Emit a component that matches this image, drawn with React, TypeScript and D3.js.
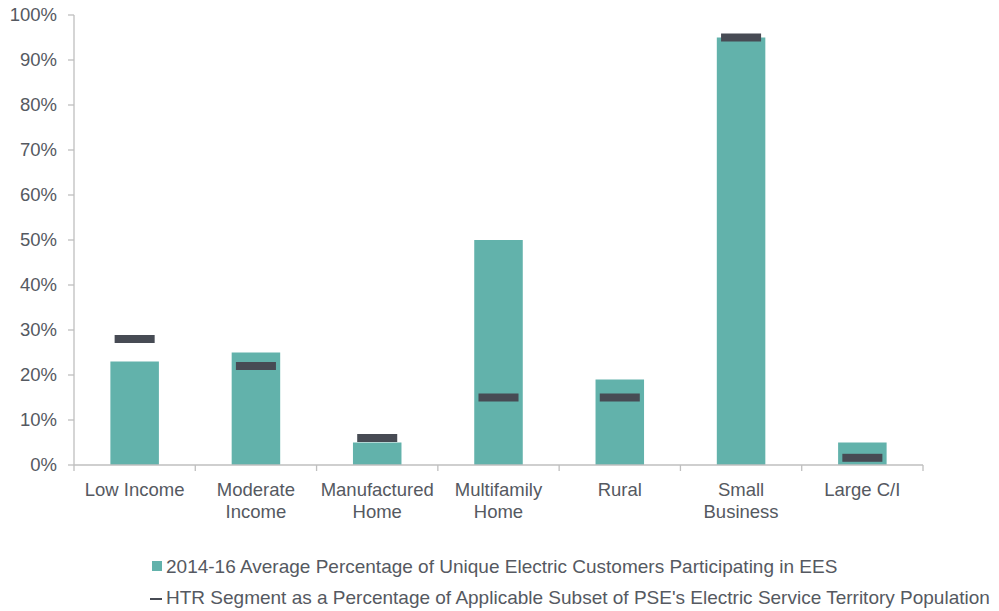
import React, { useEffect, useRef } from 'react';
import * as d3 from 'd3';

const categories = [
  ['Low Income'],
  ['Moderate', 'Income'],
  ['Manufactured', 'Home'],
  ['Multifamily', 'Home'],
  ['Rural'],
  ['Small', 'Business'],
  ['Large C/I'],
];
const participation = [23, 25, 5, 50, 19, 95, 5];
const htrSegment = [28, 22, 6, 15, 15, 95, 1.6];
const yTicks = [0, 10, 20, 30, 40, 50, 60, 70, 80, 90, 100];
const legendLabels = [
  '2014-16 Average Percentage of Unique Electric Customers Participating in EES',
  "HTR Segment as a Percentage of Applicable Subset of PSE's Electric Service Territory Population",
];

export default function App() {
  const ref = useRef<SVGSVGElement>(null);

  useEffect(() => {
    const svg = d3.select(ref.current);
    svg.selectAll('*').remove();

    const font = 'Liberation Sans, Arial, sans-serif';
    const textColor = '#555961';
    const axisColor = '#bfbfbf';
    const barColor = '#62b2ab';
    const markColor = '#474b54';

    const idx = categories.map((_, i) => i);
    const x = d3.scaleBand<number>().domain(idx).range([74, 923]).paddingInner(0).paddingOuter(0);
    const y = d3.scaleLinear().domain([0, 100]).range([465, 15]);
    const bw = x.bandwidth() * 0.4;
    const mw = x.bandwidth() * 0.33;

    const g = svg.append('g');

    // y axis
    g.append('line').attr('x1', 74).attr('x2', 74).attr('y1', y(100)).attr('y2', y(0))
      .attr('stroke', axisColor).attr('stroke-width', 1.3);
    yTicks.forEach(t => {
      g.append('line').attr('x1', 68).attr('x2', 74).attr('y1', y(t)).attr('y2', y(t))
        .attr('stroke', axisColor).attr('stroke-width', 1.3);
      g.append('text').attr('x', 57).attr('y', y(t)).attr('dy', '0.35em')
        .attr('text-anchor', 'end').attr('font-family', font).attr('font-size', 18.5)
        .attr('fill', textColor).text(t + '%');
    });

    // bars
    g.selectAll('rect.bar').data(participation).join('rect').attr('class', 'bar')
      .attr('x', (_, i) => (x(i) as number) + (x.bandwidth() - bw) / 2)
      .attr('width', bw)
      .attr('y', d => y(d))
      .attr('height', d => y(0) - y(d))
      .attr('fill', barColor);

    // markers
    g.selectAll('rect.mark').data(htrSegment).join('rect').attr('class', 'mark')
      .attr('x', (_, i) => (x(i) as number) + (x.bandwidth() - mw) / 2)
      .attr('width', mw)
      .attr('y', d => y(d) - 4)
      .attr('height', 8)
      .attr('fill', markColor);

    // x axis
    g.append('line').attr('x1', 74).attr('x2', 923).attr('y1', y(0)).attr('y2', y(0))
      .attr('stroke', axisColor).attr('stroke-width', 1.3);
    idx.concat([idx.length]).forEach(i => {
      const xx = i < idx.length ? (x(i) as number) : 923;
      g.append('line').attr('x1', xx).attr('x2', xx).attr('y1', y(0)).attr('y2', y(0) + 6)
        .attr('stroke', axisColor).attr('stroke-width', 1.3);
    });
    categories.forEach((lines, i) => {
      const t = g.append('text').attr('text-anchor', 'middle').attr('font-family', font)
        .attr('font-size', 18.5).attr('fill', textColor);
      lines.forEach((l, j) => {
        t.append('tspan').attr('x', (x(i) as number) + x.bandwidth() / 2)
          .attr('y', 496 + j * 22).text(l);
      });
    });

    // legend
    const lg = svg.append('g');
    lg.append('rect').attr('x', 152).attr('y', 561).attr('width', 10).attr('height', 10).attr('fill', barColor);
    lg.append('line').attr('x1', 150).attr('x2', 162).attr('y1', 599).attr('y2', 599)
      .attr('stroke', markColor).attr('stroke-width', 2);
    legendLabels.forEach((l, i) => {
      lg.append('text').attr('x', 166).attr('y', 573 + i * 31).attr('font-family', font)
        .attr('font-size', 19).attr('fill', textColor).text(l);
    });
  }, []);

  return (
    <svg ref={ref} width={999} height={611} style={{ position: 'absolute', left: 0, top: 0 }} />
  );
}
